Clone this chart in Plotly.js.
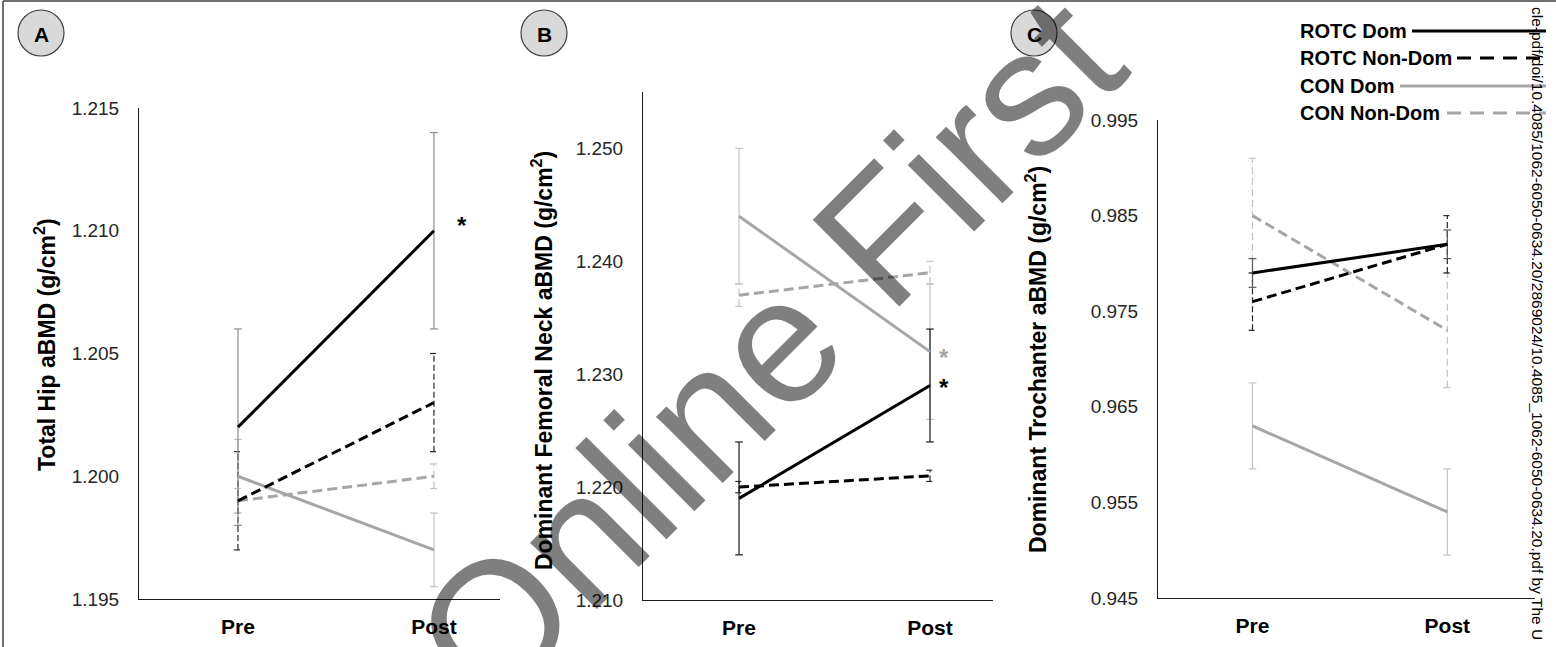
<!DOCTYPE html>
<html><head><meta charset="utf-8">
<script src="https://cdn.plot.ly/plotly-3.0.1.min.js"></script>
<style>html,body{margin:0;padding:0;background:#fff;overflow:hidden}#chart{width:1556px;height:647px}</style>
</head><body><div id="chart"></div>
<script>
const W = 1556, H = 647;

// ---------- data ----------
const categories = ['Pre', 'Post'];
const seriesNames = ['ROTC Dom', 'ROTC Non-Dom', 'CON Dom', 'CON Non-Dom'];

// Panel A: Total Hip aBMD (g/cm2)
const hipRotcDom = [1.202, 1.210];
const hipRotcDomErr = [0.004, 0.004];
const hipRotcNon = [1.199, 1.203];
const hipRotcNonErr = [0.002, 0.002];
const hipConDom = [1.200, 1.197];
const hipConDomErr = [0.0015, 0.0015];
const hipConNon = [1.199, 1.200];
const hipConNonErr = [0.0005, 0.0005];

// Panel B: Dominant Femoral Neck aBMD (g/cm2)
const neckRotcDom = [1.219, 1.229];
const neckRotcDomErr = [0.005, 0.005];
const neckRotcNon = [1.220, 1.221];
const neckRotcNonErr = [0.0005, 0.0005];
const neckConDom = [1.244, 1.232];
const neckConDomErr = [0.006, 0.006];
const neckConNon = [1.237, 1.239];
const neckConNonErr = [0.001, 0.001];

// Panel C: Dominant Trochanter aBMD (g/cm2)
const trochRotcDom = [0.979, 0.982];
const trochRotcDomErr = [0.0015, 0.0015];
const trochRotcNon = [0.976, 0.982];
const trochRotcNonErr = [0.003, 0.003];
const trochConDom = [0.963, 0.954];
const trochConDomErr = [0.0045, 0.0045];
const trochConNon = [0.985, 0.973];
const trochConNonErr = [0.006, 0.006];

const yTitles = ['Total Hip aBMD (g/cm<sup>2</sup>)',
                 'Dominant Femoral Neck aBMD (g/cm<sup>2</sup>)',
                 'Dominant Trochanter aBMD (g/cm<sup>2</sup>)'];
const panelLetters = ['A', 'B', 'C'];
const sideText = 'cle-pdf/doi/10.4085/1062-6050-0634.20/2869024/10.4085_1062-6050-0634.20.pdf by The U';
const watermark = 'Online First';

// ---------- styles ----------
const styles = {
  'ROTC Dom':     {color: '#000000', width: 3, dash: 'solid',    err: '#595959', errDash: 'solid'},
  'ROTC Non-Dom': {color: '#000000', width: 3, dash: '10px,5px', err: '#262626', errDash: '6px,3px'},
  'CON Dom':      {color: '#a6a6a6', width: 3, dash: 'solid',    err: '#c3c3c3', errDash: 'solid'},
  'CON Non-Dom':  {color: '#a6a6a6', width: 3, dash: '10px,5px', err: '#c3c3c3', errDash: '7px,4px'}
};

const panels = [
  {series: {'ROTC Dom': [hipRotcDom, hipRotcDomErr], 'ROTC Non-Dom': [hipRotcNon, hipRotcNonErr],
            'CON Dom': [hipConDom, hipConDomErr], 'CON Non-Dom': [hipConNon, hipConNonErr]},
   errOverride: {'ROTC Dom': '#8c8c8c'}},
  {series: {'ROTC Dom': [neckRotcDom, neckRotcDomErr], 'ROTC Non-Dom': [neckRotcNon, neckRotcNonErr],
            'CON Dom': [neckConDom, neckConDomErr], 'CON Non-Dom': [neckConNon, neckConNonErr]},
   errOverride: {'ROTC Dom': '#1a1a1a'}},
  {series: {'ROTC Dom': [trochRotcDom, trochRotcDomErr], 'ROTC Non-Dom': [trochRotcNon, trochRotcNonErr],
            'CON Dom': [trochConDom, trochConDomErr], 'CON Non-Dom': [trochConNon, trochConNonErr]},
   errOverride: {}}
];

// ---------- geometry (pixels) ----------
const geo = [
  {x0: 139, x1: 500, y0: 108, y1: 599, xr: [-0.505, 1.337], yr: [1.195, 1.215], dtick: 0.005, title: [45, 345], circle: [41, 33]},
  {x0: 643, x1: 993, y0: 92,  y1: 600, xr: [-0.503, 1.330], yr: [1.210, 1.255], dtick: 0.01,  title: [542, 361], circle: [544, 33]},
  {x0: 1158, x1: 1535, y0: 120, y1: 598, xr: [-0.485, 1.450], yr: [0.945, 0.995], dtick: 0.01, title: [1036, 360], circle: [1034, 33]}
];
const fx = px => px / W;
const fy = py => 1 - py / H;
const FONT = 'Arial, "Liberation Sans", sans-serif';

const traces = [];
const drawOrder = ['CON Non-Dom', 'CON Dom', 'ROTC Non-Dom', 'ROTC Dom'];
panels.forEach((p, k) => {
  const xa = k === 0 ? 'x' : 'x' + (k + 1);
  const ya = k === 0 ? 'y' : 'y' + (k + 1);
  const cap = 0.02;
  drawOrder.forEach(name => {
    const [vals, errs] = p.series[name];
    const st = styles[name];
    const col = p.errOverride[name] || st.err;
    const ex = [], ey = [];
    vals.forEach((v, i) => {
      ex.push(i, i, null, i - cap, i + cap, null, i - cap, i + cap, null);
      ey.push(v - errs[i], v + errs[i], null, v + errs[i], v + errs[i], null, v - errs[i], v - errs[i], null);
    });
    traces.push({type: 'scatter', mode: 'lines', x: ex, y: ey, xaxis: xa, yaxis: ya,
      line: {color: col, width: 1.2, dash: st.errDash}, hoverinfo: 'skip', showlegend: false});
  });
  drawOrder.forEach(name => {
    const [vals] = p.series[name];
    const st = styles[name];
    traces.push({type: 'scatter', mode: 'lines', name: name, x: categories.map((c, i) => i), y: vals,
      xaxis: xa, yaxis: ya, line: {color: st.color, width: st.width, dash: st.dash},
      showlegend: false});
  });
});

const layout = {
  width: W, height: H, margin: {l: 0, r: 0, t: 0, b: 0},
  paper_bgcolor: '#ffffff', plot_bgcolor: 'rgba(0,0,0,0)',
  showlegend: false, font: {family: FONT, color: '#000'},
  annotations: [], shapes: []
};

function note(px, py, text, font, extra) {
  return Object.assign({xref: 'paper', yref: 'paper', x: fx(px), y: fy(py), text: text,
    showarrow: false, xanchor: 'center', yanchor: 'middle', font: font}, extra || {});
}

geo.forEach((g, k) => {
  const sx = k === 0 ? '' : String(k + 1);
  layout['xaxis' + sx] = {
    domain: [fx(g.x0), fx(g.x1)], range: g.xr, anchor: 'y' + sx,
    tickvals: [0, 1], ticktext: categories.map(c => '<b>' + c + '</b>'),
    tickfont: {size: 21, family: FONT, color: '#000'}, ticks: '', ticklabelstandoff: 9,
    showline: true, linecolor: '#1a1a1a', linewidth: 1, showgrid: false, zeroline: false, fixedrange: true
  };
  layout['yaxis' + sx] = {
    domain: [fy(g.y1), fy(g.y0)], range: g.yr, anchor: 'x' + sx,
    tick0: g.yr[0], dtick: g.dtick, tickformat: '.3f',
    tickfont: {size: 19, family: FONT, color: '#262626'}, ticks: '', ticklabelstandoff: 15,
    showline: true, linecolor: '#1a1a1a', linewidth: 1, showgrid: false, zeroline: false, fixedrange: true
  };
  layout.annotations.push(note(g.title[0], g.title[1], yTitles[k],
    {size: 23, family: FONT, color: '#000', weight: 'bold'}, {textangle: -90}));
  const r = 23;
  layout.shapes.push({type: 'circle', xref: 'paper', yref: 'paper',
    x0: fx(g.circle[0] - r), x1: fx(g.circle[0] + r), y0: fy(g.circle[1] + r), y1: fy(g.circle[1] - r),
    fillcolor: '#d9d9d9', line: {color: '#404040', width: 1.2}, layer: 'below'});
  layout.annotations.push(note(g.circle[0], g.circle[1] + 1, panelLetters[k],
    {size: 21, family: FONT, color: '#000', weight: 'bold'}));
});

// significance markers
[[462, 225, '#000'], [944, 357, '#a6a6a6'], [944, 387, '#000']].forEach(a => {
  layout.annotations.push(note(a[0], a[1], '*', {size: 24, family: FONT, color: a[2], weight: 'bold'}));
});

// legend (text left, line sample right)
const legendRows = [
  {name: seriesNames[0], y: 31, lx0: 1412},
  {name: seriesNames[1], y: 58, lx0: 1457},
  {name: seriesNames[2], y: 86, lx0: 1400},
  {name: seriesNames[3], y: 113, lx0: 1447}
];
legendRows.forEach(row => {
  const st = styles[row.name];
  layout.annotations.push(note(1298, row.y, row.name,
    {size: 20, family: FONT, color: '#000', weight: 'bold'}, {xanchor: 'left'}));
  layout.shapes.push({type: 'line', xref: 'paper', yref: 'paper', x0: fx(row.lx0), x1: fx(1546),
    y0: fy(row.y), y1: fy(row.y), line: {color: st.color, width: 3, dash: row.name.indexOf('Non') >= 0 ? '14px,9px' : 'solid'}});
});

// side download stamp
layout.annotations.push(note(1538, 323, sideText, {size: 15.5, family: FONT, color: '#000'}, {textangle: 90}));

// frame
layout.shapes.push({type: 'line', xref: 'paper', yref: 'paper', x0: fx(3), x1: fx(1556), y0: fy(1), y1: fy(1), line: {color: '#404040', width: 1.5}});
layout.shapes.push({type: 'line', xref: 'paper', yref: 'paper', x0: fx(3), x1: fx(3), y0: fy(1), y1: fy(647), line: {color: '#404040', width: 1.5}});

// watermark
layout.annotations.push(note(768, 350, watermark, {size: 178, family: FONT, color: 'rgba(0,0,0,0.5)'}, {textangle: -45}));

Plotly.newPlot('chart', traces, layout, {staticPlot: true, displayModeBar: false});
</script></body></html>
